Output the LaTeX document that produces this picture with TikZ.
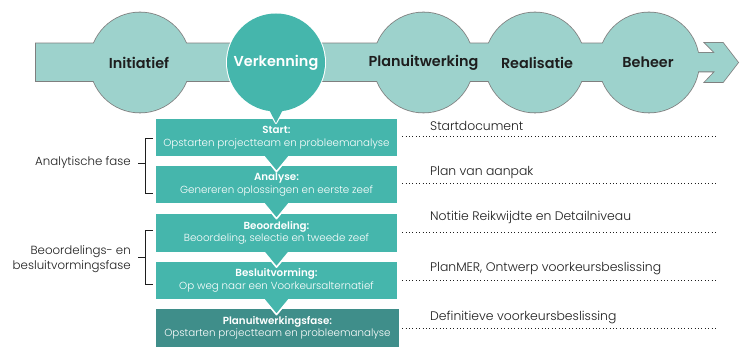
\documentclass[tikz,border=0pt]{standalone}
\usepackage{fontspec}
\setmainfont{Poppins}
\newfontfamily\lightfont{Poppins Light}
\newfontfamily\semifont{Poppins SemiBold}
\usetikzlibrary{calc}
\pgfdeclarelayer{bg}
\pgfsetlayers{bg,main}
\definecolor{lightteal}{HTML}{9DD2CC}
\definecolor{tealmid}{HTML}{45B6AC}
\definecolor{tealdark}{HTML}{3F8E8A}
\definecolor{rim}{HTML}{7F7F7F}
\definecolor{ink}{HTML}{1E1E1E}

\begin{document}
\begin{tikzpicture}[x=1pt,y=-1pt,
  phase/.style={font=\semifont\fontsize{14.4}{16}\selectfont, text=ink, inner sep=0pt},
  stepbox/.style={minimum width=241pt, minimum height=37pt, inner sep=0pt, align=center,
    text=white, font=\lightfont\fontsize{10.3}{12.5}\selectfont},
  doc/.style={anchor=west, text=ink, font=\lightfont\fontsize{12.4}{14}\selectfont, inner sep=0pt},
  side/.style={anchor=east, align=right, text=ink, font=\lightfont\fontsize{11.8}{15}\selectfont, inner sep=0pt},
  leader/.style={ink, line width=0.9pt, dash pattern=on 0.9pt off 2.5pt},
  brace/.style={ink, line width=0.9pt},
  rimline/.style={rim, line width=1.6pt},
  pointer/.style={fill=tealmid, draw=white, line width=1.6pt, line join=round},
]
\useasboundingbox (0,0) rectangle (740,347);

% phase labels on the time line
\node[phase] (init) at (139,62.5) {Initiatief};
\node[phase, text=white] (verk) at (276,62.5) {Verkenning};
\node[phase] (plan) at (423.5,62.5) {Planuitwerking};
\node[phase] (real) at (537,62.5) {Realisatie};
\node[phase] (beh) at (648,62.5) {Beheer};

% steps of the exploration phase
\node[stepbox] (b1) at (276.5,137.5) {{\semifont Start:}\\Opstarten projectteam en probleemanalyse};
\node[stepbox] (b2) at (276.5,184.5) {{\semifont Analyse:}\\Genereren oplossingen en eerste zeef};
\node[stepbox] (b3) at (276.5,233) {{\semifont Beoordeling:}\\Beoordeling, selectie en tweede zeef};
\node[stepbox] (b4) at (276.5,280.5) {{\semifont Besluitvorming:}\\Op weg naar een Voorkeursalternatief};
\node[stepbox, minimum width=243pt, minimum height=38pt] (b5) at (277.5,328)
  {{\semifont Planuitwerkingsfase:}\\Opstarten projectteam en probleemanalyse};

% documents per step
\node[doc] (d1) at (430,126) {Startdocument};
\node[doc] (d2) at (430,173) {Plan van aanpak};
\node[doc] (d3) at (430,217) {Notitie Reikwijdte en Detailniveau};
\node[doc] (d4) at (430,269) {PlanMER, Ontwerp voorkeursbeslissing};
\node[doc] (d5) at (430,317) {Definitieve voorkeursbeslissing};
\coordinate (e1) at (717,136);
\coordinate (e2) at (717,183);
\coordinate (e3) at (717,232);
\coordinate (e4) at (717,280);
\coordinate (e5) at (717,328);
\draw[leader] (b1.east |- e1) ++(5,0) -- (e1);
\draw[leader] (b2.east |- e2) ++(5,0) -- (e2);
\draw[leader] (b3.east |- e3) ++(5,0) -- (e3);
\draw[leader] (b4.east |- e4) ++(5,0) -- (e4);
\draw[leader] (b5.east |- e5) ++(3,0) -- (e5);

% groups of steps
\node[side] (g1) at (131,163) {Analytische fase};
\node[side] (g2) at (131,259.5) {Beoordelings- en\\besluitvormingsfase};
\draw[brace] (153,138) -- (145,138) -- (145,193) -- (153,193);
\draw[brace] (145,163.5) -- ([xshift=7pt]g1.east |- 0,163.5);
\draw[brace] (153,230) -- (145,230) -- (145,284) -- (153,284);
\draw[brace] (145,257) -- ([xshift=7pt]g2.east |- 0,257);

\begin{pgfonlayer}{bg}
  \fill[white] (0,0) rectangle (740,347);
  % outline of the time line band and its circles
  \draw[rimline] (36,43.5) -- (660,43.5) -- (660,53) -- (715,53) -- (705,43) -- (723,43)
    -- (738,62.5) -- (723,82) -- (705,82) -- (715,71.5) -- (660,71.5) -- (660,81) -- (36,81) -- cycle;
  \draw[rimline] (140,62.5) circle[radius=50];
  \draw[rimline] (plan) circle[radius=50];
  \draw[rimline] (535,62.5) circle[radius=50];
  \draw[rimline] (649,62.5) circle[radius=50];
  % fills on top, so only the outer contour remains
  \fill[lightteal] (36,43.5) -- (660,43.5) -- (660,53) -- (715,53) -- (705,43) -- (723,43)
    -- (738,62.5) -- (723,82) -- (705,82) -- (715,71.5) -- (660,71.5) -- (660,81) -- (36,81) -- cycle;
  \fill[lightteal] (140,62.5) circle[radius=50];
  \fill[lightteal] (plan) circle[radius=50];
  \fill[lightteal] (535,62.5) circle[radius=50];
  \fill[lightteal] (649,62.5) circle[radius=50];

  % step boxes, each pointer laid over the next box
  \fill[tealdark] (b5.north west) rectangle (b5.south east);
  \filldraw[pointer] ($(b4.south)+(-14,-1.5)$) -- ($(b4.south)+(0,15.5)$) -- ($(b4.south)+(14,-1.5)$) -- cycle;
  \fill[tealmid] (b4.north west) rectangle (b4.south east);
  \filldraw[pointer] ($(b3.south)+(-14,-1.5)$) -- ($(b3.south)+(0,15.5)$) -- ($(b3.south)+(14,-1.5)$) -- cycle;
  \fill[tealmid] (b3.north west) rectangle (b3.south east);
  \filldraw[pointer] ($(b2.south)+(-14,-1.5)$) -- ($(b2.south)+(0,15.5)$) -- ($(b2.south)+(14,-1.5)$) -- cycle;
  \fill[tealmid] (b2.north west) rectangle (b2.south east);
  \filldraw[pointer] ($(b1.south)+(-14,-1.5)$) -- ($(b1.south)+(0,15.5)$) -- ($(b1.south)+(14,-1.5)$) -- cycle;
  \fill[tealmid] (b1.north west) rectangle (b1.south east);

  % highlighted phase with its pointer
  \draw[white, line width=2pt] (verk) circle[radius=49];
  \draw[white, line width=2pt, line join=round] (265,104) -- (276,123) -- (287,104);
  \fill[tealmid] (verk) circle[radius=49];
  \fill[tealmid] (264,100) -- (276,123) -- (288,100) -- cycle;
\end{pgfonlayer}
\end{tikzpicture}
\end{document}
